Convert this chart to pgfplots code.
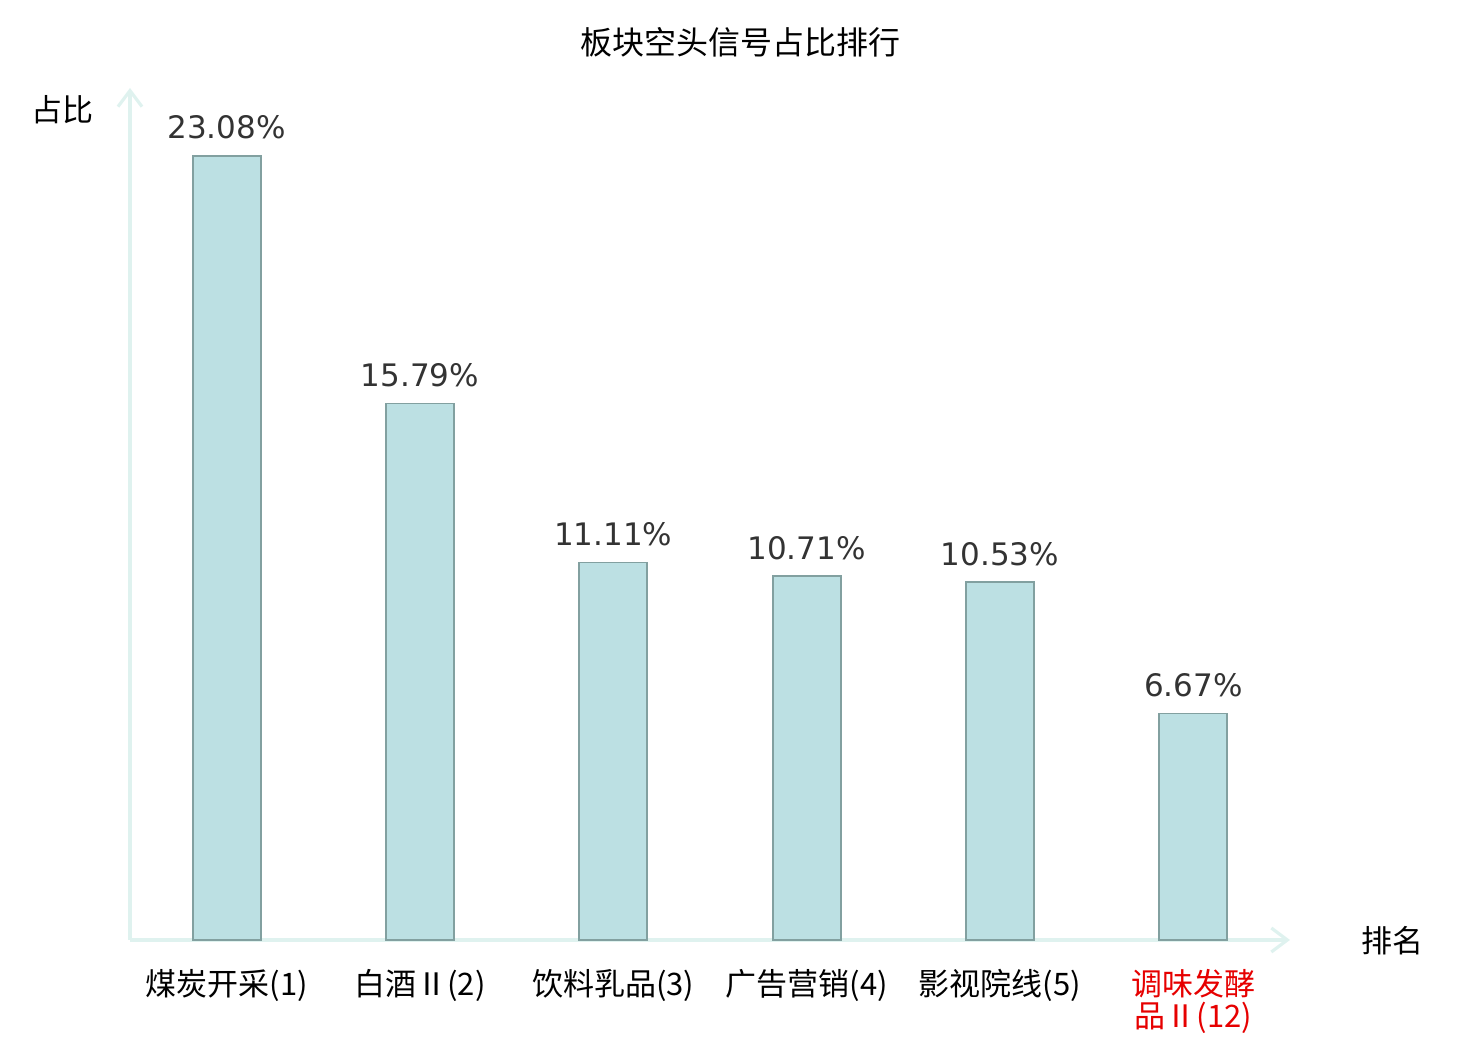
\documentclass[border=0pt]{standalone}
\usepackage{fontspec}
\setmainfont{Noto Sans CJK SC}
\newfontfamily\dejavu{DejaVu Sans}
\usepackage{pgfplots}
\pgfplotsset{compat=1.18}
\usetikzlibrary{arrows.meta}
\definecolor{axiscol}{RGB}{223,242,239}
\definecolor{barfill}{RGB}{188,224,227}
\definecolor{bardraw}{RGB}{130,160,160}
\definecolor{valcol}{RGB}{51,51,51}
\definecolor{hired}{RGB}{230,0,0}
\begin{document}
\begin{tikzpicture}
\useasboundingbox (0,0) rectangle (740pt,520pt);
\begin{axis}[
  at={(65pt,50pt)}, anchor=south west,
  scale only axis, width=580pt, height=426pt,
  xmin=-0.5, xmax=5.5, ymin=0, ymax=25.08,
  axis lines=left,
  axis line style={draw=axiscol, line width=2pt, -{Straight Barb[length=8pt,width=12pt,line width=1.6pt]}},
  ytick=\empty,
  xtick={0,1,2,3,4,5},
  xticklabels={煤炭开采(1),白酒Ⅱ(2),饮料乳品(3),广告营销(4),影视院线(5),{{\color{hired}调味发酵}\\{\color{hired}品Ⅱ(12)}}},
  major tick length=0pt,
  xticklabel style={font=\fontsize{15.5}{16}\selectfont, align=center, anchor=north, inner sep=0pt, yshift=-14.5pt},
  clip=false,
]
\addplot[ybar, bar width=34pt, fill=barfill, draw=bardraw, line width=0.9pt,
  nodes near coords={\pgfmathprintnumber[fixed,precision=2,fixed zerofill,assume math mode=true]{\pgfplotspointmeta}\%},
  every node near coord/.append style={font=\dejavu\fontsize{15.5}{18}\selectfont, text=valcol, anchor=base, inner sep=0pt, yshift=8.5pt}]
  coordinates {(0,23.08) (1,15.79) (2,11.11) (3,10.71) (4,10.53) (5,6.67)};
\end{axis}
\node[font=\fontsize{16}{18}\selectfont, inner sep=0pt] at (370pt,499pt) {板块空头信号占比排行};
\node[font=\fontsize{15.5}{18}\selectfont, inner sep=0pt] at (31.5pt,465pt) {占比};
\node[font=\fontsize{15.5}{18}\selectfont, inner sep=0pt] at (696pt,49.5pt) {排名};
\end{tikzpicture}
\end{document}
